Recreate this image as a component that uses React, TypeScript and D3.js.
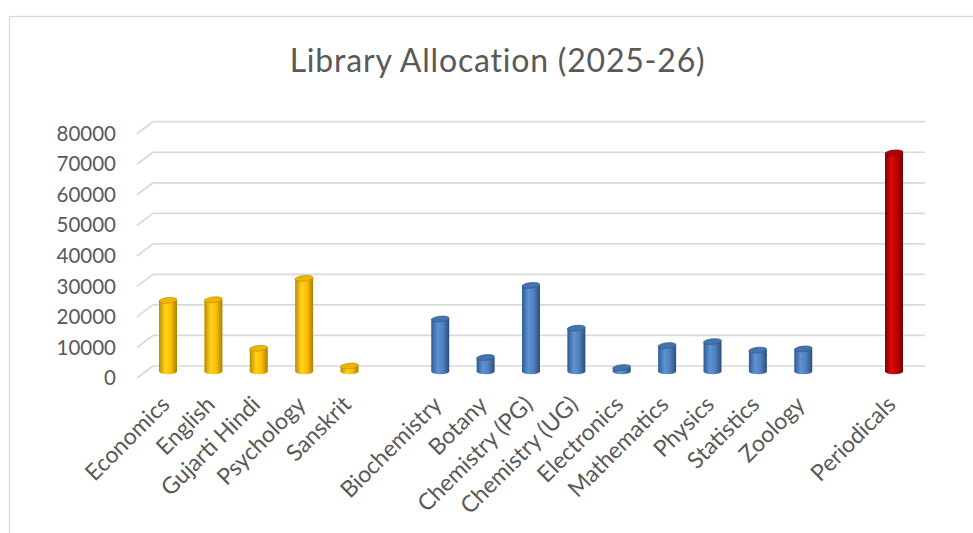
import React from "react";
import * as d3 from "d3";

const title = "Library Allocation (2025-26)";
const artsSubjects = ["Economics", "English", "Gujarti Hindi", "Psychology", "Sanskrit"];
const artsValues = [23300, 23500, 7600, 30500, 1800];
const scienceSubjects = ["Biochemistry", "Botany", "Chemistry (PG)", "Chemistry (UG)", "Electronics", "Mathematics", "Physics", "Statistics", "Zoology"];
const scienceValues = [17200, 4600, 28200, 14200, 1300, 8500, 9800, 7000, 7400];
const otherSubjects = ["Periodicals"];
const otherValues = [71600];
const yTicks = [0, 10000, 20000, 30000, 40000, 50000, 60000, 70000, 80000];

const W = 973, H = 533;
const FONT = "Lato, 'Open Sans', sans-serif";
const TEXT = "#595959";

type Bar = { name: string; value: number; palette: string };

const groups: { names: string[]; values: number[]; palette: string }[] = [
  { names: artsSubjects, values: artsValues, palette: "yellow" },
  { names: scienceSubjects, values: scienceValues, palette: "blue" },
  { names: otherSubjects, values: otherValues, palette: "red" },
];

const slots: string[] = [];
const bars: Bar[] = [];
groups.forEach((g, gi) => {
  if (gi > 0) slots.push(`__gap${gi}`);
  g.names.forEach((n, i) => {
    slots.push(n);
    bars.push({ name: n, value: g.values[i], palette: g.palette });
  });
});

const palettes: Record<string, { edgeL: string; light: string; mid: string; edgeR: string; top: string; topEdge: string }> = {
  yellow: { edgeL: "#b98c00", light: "#ffd21f", mid: "#ffc000", edgeR: "#a87f00", top: "#f0b400", topEdge: "#b88a00" },
  blue: { edgeL: "#2f5b8f", light: "#5d92d4", mid: "#4f81bd", edgeR: "#2a4f7d", top: "#4474ad", topEdge: "#2d5585" },
  red: { edgeL: "#800000", light: "#dc0a0a", mid: "#c00000", edgeR: "#700000", top: "#b00000", topEdge: "#7a0000" },
};

export default function App() {
  const y = d3.scaleLinear().domain([0, 80000]).range([366, 121.7]);
  const x = d3.scalePoint<string>().domain(slots).range([168, 894]);
  const wallLeft = 153, wallRight = 925;
  const depthDx = 16, depthDy = 12;
  const barDy = 5.5;
  const bw = 18;
  const ry = 2.8;

  return (
    <svg width={W} height={H} style={{ position: "absolute", left: 0, top: 0, background: "#fff" }}>
      <defs>
        {Object.entries(palettes).map(([k, p]) => (
          <linearGradient key={k} id={`grad-${k}`} x1="0" x2="1" y1="0" y2="0">
            <stop offset="0" stopColor={p.edgeL} />
            <stop offset="0.35" stopColor={p.light} />
            <stop offset="0.65" stopColor={p.mid} />
            <stop offset="1" stopColor={p.edgeR} />
          </linearGradient>
        ))}
      </defs>
      <rect x={9.5} y={16.5} width={1000} height={1000} fill="#fff" stroke="#d9d9d9" strokeWidth={1.3} />
      <text x={497.5} y={71.5} textAnchor="middle" fontFamily={FONT} fontSize={32} letterSpacing={0.8} fill={TEXT}>
        {title}
      </text>
      {/* gridlines on back wall + side floor diagonals */}
      {yTicks.map((t) => (
        <g key={t}>
          <line x1={wallLeft} x2={wallRight} y1={y(t)} y2={y(t)} stroke="#d9d9d9" strokeWidth={1.7} />
          <line x1={wallLeft - depthDx} y1={y(t) + depthDy} x2={wallLeft} y2={y(t)} stroke="#d9d9d9" strokeWidth={1.7} />
          <text x={116} y={y(t) + depthDy} dy="0.35em" textAnchor="end" fontFamily={FONT} fontSize={20.5} fill={TEXT}>
            {t}
          </text>
        </g>
      ))}
      {/* cylinders */}
      {bars.map((b) => {
        const p = palettes[b.palette];
        const cx = x(b.name)!;
        const yb = y(0) + barDy;
        const yt = y(b.value) + barDy;
        return (
          <g key={b.name}>
            <path
              d={`M${cx - bw / 2},${yt} L${cx - bw / 2},${yb} A${bw / 2},${ry} 0 0 0 ${cx + bw / 2},${yb} L${cx + bw / 2},${yt} Z`}
              fill={`url(#grad-${b.palette})`}
            />
            <ellipse cx={cx} cy={yt} rx={bw / 2} ry={ry} fill={p.top} stroke={p.topEdge} strokeWidth={0.6} transform={`rotate(-6 ${cx} ${yt})`} />
          </g>
        );
      })}
      {/* category labels */}
      {bars.map((b) => {
        const cx = x(b.name)! + 3;
        const ly = 406;
        return (
          <text key={b.name} x={cx} y={ly} textAnchor="end" fontFamily={FONT} fontSize={23} fill={TEXT} transform={`rotate(-45 ${cx} ${ly})`}>
            {b.name}
          </text>
        );
      })}
    </svg>
  );
}
